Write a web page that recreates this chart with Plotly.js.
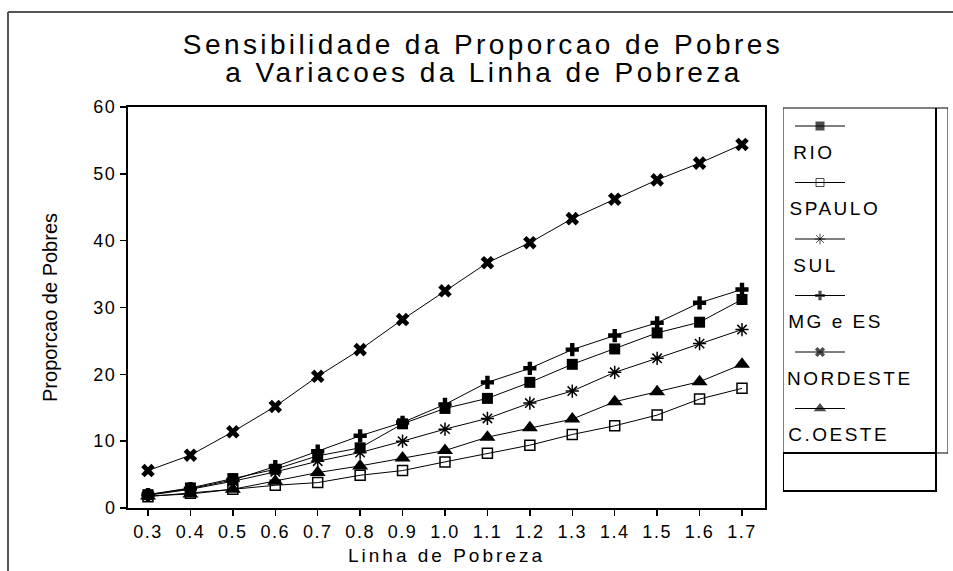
<!DOCTYPE html>
<html>
<head>
<meta charset="utf-8">
<script src="https://cdn.plot.ly/plotly-3.0.1.min.js"></script>
<style>
  html, body { margin: 0; padding: 0; background: #fff; }
  #chart { width: 953px; height: 571px; }
  .gtitle { letter-spacing: 3.4px; }
  .xtick text, .ytick text { letter-spacing: 1.5px; }
  .xtitle { letter-spacing: 3px; }
  .annotation[data-index="0"] text { letter-spacing: 3.4px; }
  .annotation:not([data-index="0"]) text { letter-spacing: 2.5px; }
</style>
</head>
<body>
<div id="chart"></div>
<script>
// ---- data ----
const linha = [0.3, 0.4, 0.5, 0.6, 0.7, 0.8, 0.9, 1.0, 1.1, 1.2, 1.3, 1.4, 1.5, 1.6, 1.7];
const tickLabels = ["0.3","0.4","0.5","0.6","0.7","0.8","0.9","1.0","1.1","1.2","1.3","1.4","1.5","1.6","1.7"];
const seriesNames = ["RIO", "SPAULO", "SUL", "MG e ES", "NORDESTE", "C.OESTE"];
const rio      = [2.0, 3.0, 4.4, 5.8, 7.8, 9.0, 12.6, 14.9, 16.4, 18.8, 21.5, 23.8, 26.2, 27.8, 31.2];
const spaulo   = [1.7, 2.2, 2.8, 3.4, 3.8, 4.9, 5.6, 6.9, 8.2, 9.4, 11.0, 12.3, 13.9, 16.3, 17.9];
const sul      = [1.9, 2.8, 4.0, 5.4, 7.0, 8.3, 10.0, 11.8, 13.4, 15.7, 17.5, 20.3, 22.4, 24.6, 26.7];
const mgEs     = [2.0, 2.9, 4.2, 6.2, 8.5, 10.8, 12.8, 15.5, 18.8, 20.9, 23.7, 25.8, 27.7, 30.7, 32.7];
const nordeste = [5.6, 7.9, 11.4, 15.2, 19.7, 23.7, 28.2, 32.5, 36.7, 39.7, 43.3, 46.2, 49.1, 51.6, 54.4];
const cOeste   = [1.8, 2.1, 2.8, 4.0, 5.3, 6.3, 7.5, 8.6, 10.6, 12.0, 13.3, 15.9, 17.4, 18.9, 21.5];
const yTicks = [0, 10, 20, 30, 40, 50, 60];

// ---- styles ----
const FONT = "Liberation Sans, Arial, sans-serif";
const seriesData = [rio, spaulo, sul, mgEs, nordeste, cOeste];
const markerStyles = [
  {symbol: "square", size: 11, color: "black", line: {width: 0}},
  {symbol: "square-open", size: 10, color: "black", line: {width: 1.5, color: "black"}},
  {symbol: "asterisk-open", size: 11, color: "black", line: {width: 1.5, color: "black"}},
  {symbol: "cross", size: 11, color: "black", line: {width: 0}},
  {symbol: "x", size: 12, color: "black", line: {width: 0}},
  {symbol: "triangle-up", size: 14, color: "black", line: {width: 0}}
];
const legendMarkerStyles = [
  {symbol: "square", size: 9, color: "black", line: {width: 0}},
  {symbol: "square-open", size: 8, color: "black", line: {width: 1, color: "black"}},
  {symbol: "asterisk-open", size: 9, color: "black", line: {width: 1, color: "black"}},
  {symbol: "cross", size: 8, color: "black", line: {width: 0}},
  {symbol: "x", size: 9, color: "black", line: {width: 0}},
  {symbol: "triangle-up", size: 11, color: "black", line: {width: 0}}
];

const traces = seriesData.map((vals, i) => ({
  type: "scatter", mode: "lines+markers",
  x: linha, y: vals, name: seriesNames[i],
  line: {color: "black", width: 1},
  marker: markerStyles[i],
  xaxis: "x", yaxis: "y", showlegend: false, hoverinfo: "x+y+name"
}));

// custom legend drawn on a pixel-mapped helper axis pair (x2/y2)
const legTop = 126, legStep = 56.5, legX0 = 795, legX1 = 845;
const annotations = [{
  text: "a Variacoes da Linha de Pobreza",
  xref: "paper", yref: "paper", x: (484 - 128) / 820, y: (508 - 72) / 401,
  xanchor: "center", yanchor: "middle", showarrow: false,
  font: {family: FONT, size: 28, color: "black"}
}];
seriesNames.forEach((nm, i) => {
  const ly = legTop + legStep * i;
  traces.push({
    type: "scatter", mode: "lines+markers",
    x: [legX0, (legX0 + legX1) / 2, legX1], y: [ly, ly, ly],
    line: {color: "black", width: 1},
    marker: Object.assign({}, legendMarkerStyles[i], {size: [0, legendMarkerStyles[i].size, 0]}),
    xaxis: "x2", yaxis: "y2", showlegend: false, hoverinfo: "skip"
  });
  annotations.push({
    text: nm, xref: "x2", yref: "y2", x: 795, y: ly + 26,
    xanchor: "left", yanchor: "middle", showarrow: false,
    font: {family: FONT, size: 19, color: "black"}
  });
});

const shapes = [
  // outer frame (left and top)
  {type: "line", xref: "paper", yref: "paper", x0: (8 - 128) / 820, x1: (8 - 128) / 820,
   y0: (508 - 12) / 401, y1: (508 - 575) / 401, line: {color: "#555", width: 2}},
  {type: "line", xref: "paper", yref: "paper", x0: (8 - 128) / 820, x1: (960 - 128) / 820,
   y0: (508 - 12) / 401, y1: (508 - 12) / 401, line: {color: "#555", width: 2}},
  // legend boxes
  {type: "rect", xref: "x2", yref: "y2", x0: 783, x1: 948, y0: 108, y1: 453, line: {color: "black", width: 1}},
  {type: "rect", xref: "x2", yref: "y2", x0: 783, x1: 936, y0: 453, y1: 491, line: {color: "black", width: 2}},
  {type: "line", xref: "x2", yref: "y2", x0: 936, x1: 936, y0: 108, y1: 491, line: {color: "black", width: 2}}
];

const layout = {
  width: 953, height: 571,
  paper_bgcolor: "white", plot_bgcolor: "white",
  margin: {l: 128, r: 5, t: 107, b: 63},
  showlegend: false,
  font: {family: FONT, color: "black"},
  title: {
    text: "Sensibilidade da Proporcao de Pobres",
    xref: "container", yref: "container", x: 483 / 953, y: 1 - 44 / 571,
    xanchor: "center", yanchor: "middle",
    font: {family: FONT, size: 28, color: "black"}
  },
  xaxis: {
    domain: [0, (765 - 128) / 820], range: [0.2529, 1.7542],
    tickmode: "array", tickvals: linha, ticktext: tickLabels,
    ticks: "outside", ticklen: 6, tickwidth: 1.5, tickcolor: "black",
    showline: true, linecolor: "black", linewidth: 2, mirror: true,
    showgrid: false, zeroline: false,
    tickfont: {family: FONT, size: 18, color: "black"},
    title: {text: "Linha de Pobreza", font: {family: FONT, size: 19, color: "black"}, standoff: 8}
  },
  yaxis: {
    range: [0, 60], tickmode: "array", tickvals: yTicks,
    ticks: "outside", ticklen: 6, tickwidth: 1.5, tickcolor: "black",
    showline: true, linecolor: "black", linewidth: 2, mirror: true,
    showgrid: false, zeroline: false,
    tickfont: {family: FONT, size: 18, color: "black"},
    title: {text: "Proporcao de Pobres", font: {family: FONT, size: 20, color: "black"}, standoff: 30}
  },
  xaxis2: {domain: [(783 - 128) / 820, 1], range: [783, 948], anchor: "y2", visible: false, fixedrange: true},
  yaxis2: {domain: [0, 1], range: [508, 107], anchor: "x2", visible: false, fixedrange: true},
  shapes: shapes,
  annotations: annotations
};

Plotly.newPlot("chart", traces, layout, {displayModeBar: false, staticPlot: true});
</script>
</body>
</html>
